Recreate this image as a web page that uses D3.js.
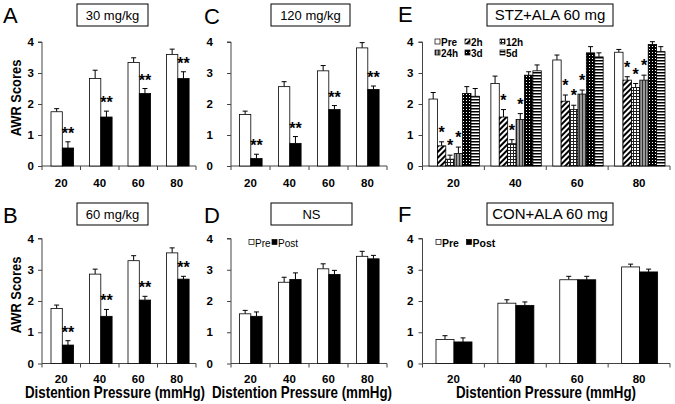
<!DOCTYPE html>
<html><head><meta charset="utf-8">
<script src="https://cdn.jsdelivr.net/npm/d3@7"></script>
<style>body{margin:0;background:#fff}svg{display:block}text{font-family:"Liberation Sans",Arial,Helvetica,sans-serif}</style>
</head><body><svg id="c" width="675" height="404"></svg>
<script>
// ---------- data ----------
const categories = ["20","40","60","80"];
const yTicks = [0,1,2,3,4];

// Panel A: 30 mg/kg
const aPre = [1.75,2.82,3.34,3.60];
const aPreErr = [0.10,0.27,0.15,0.17];
const aPost = [0.58,1.58,2.34,2.82];
const aPostErr = [0.20,0.19,0.16,0.22];
// Panel B: 60 mg/kg
const bPre = [1.76,2.86,3.29,3.54];
const bPreErr = [0.11,0.16,0.16,0.16];
const bPost = [0.59,1.51,2.03,2.70];
const bPostErr = [0.14,0.22,0.12,0.09];
// Panel C: 120 mg/kg
const cPre = [1.66,2.56,3.07,3.81];
const cPreErr = [0.11,0.16,0.17,0.17];
const cPost = [0.24,0.73,1.82,2.47];
const cPostErr = [0.14,0.22,0.13,0.11];
// Panel D: NS
const dPre = [1.59,2.60,3.03,3.43];
const dPreErr = [0.11,0.16,0.16,0.16];
const dPost = [1.51,2.69,2.85,3.35];
const dPostErr = [0.14,0.21,0.13,0.11];
// Panel F: CON+ALA 60 mg
const fPre = [0.77,1.93,2.68,3.09];
const fPreErr = [0.12,0.11,0.11,0.09];
const fPost = [0.69,1.86,2.68,2.93];
const fPostErr = [0.13,0.11,0.11,0.09];
// Panel E: STZ+ALA 60 mg
const eNames = ["Pre","2h","12h","24h","3d","5d"];
const ePre = [2.16,2.66,3.42,3.67];
const ePreErr = [0.21,0.24,0.16,0.09];
const e2h = [0.65,1.58,2.09,2.77];
const e2hErr = [0.13,0.24,0.20,0.11];
const e12h = [0.22,0.72,1.82,2.53];
const e12hErr = [0.13,0.13,0.14,0.13];
const e24h = [0.40,1.50,2.32,2.77];
const e24hErr = [0.21,0.19,0.13,0.16];
const e3d = [2.34,2.93,3.65,3.92];
const e3dErr = [0.22,0.11,0.20,0.09];
const e5d = [2.25,3.07,3.52,3.69];
const e5dErr = [0.25,0.19,0.13,0.16];
const eStarred = ["2h","12h","24h"];

// ---------- drawing ----------
const svg = d3.select("#c");
const defs = svg.append("defs");
function pat(id, w, h, build, transform){
  const p = defs.append("pattern").attr("id",id).attr("patternUnits","userSpaceOnUse")
    .attr("width",w).attr("height",h);
  if (transform) p.attr("patternTransform",transform);
  build(p);
}
pat("p2h",4,4,p=>{p.append("rect").attr("width",4).attr("height",4).attr("fill","#fff");
  p.append("rect").attr("width",2).attr("height",4).attr("fill","#000");},"rotate(45)");
pat("p12h",3,3,p=>{p.append("rect").attr("width",3).attr("height",3).attr("fill","#fff");
  p.append("rect").attr("width",3).attr("height",1).attr("fill","#222");
  p.append("rect").attr("width",1).attr("height",3).attr("fill","#222");});
pat("p24h",3,3,p=>{p.append("rect").attr("width",3).attr("height",3).attr("fill","#9a9a9a");
  p.append("rect").attr("width",1).attr("height",3).attr("fill","#333");});
pat("p3d",3,3,p=>{p.append("rect").attr("width",3).attr("height",3).attr("fill","#000");
  p.append("rect").attr("x",1).attr("y",1).attr("width",1).attr("height",1).attr("fill","#fff");});
pat("p5d",3,3,p=>{p.append("rect").attr("width",3).attr("height",3).attr("fill","#fff");
  p.append("rect").attr("width",3).attr("height",1.5).attr("fill","#000");});

const eFills = {"Pre":"#fff","2h":"url(#p2h)","12h":"url(#p12h)","24h":"url(#p24h)","3d":"url(#p3d)","5d":"url(#p5d)"};
const axisColor = "#444";

function drawPanel(o){
  const g = svg.append("g");
  const x = d3.scaleBand().domain(categories).range([o.x0,o.x1]).paddingInner(0).paddingOuter(0);
  const names = o.series.map(s=>s.name);
  const inner = d3.scaleBand().domain(names)
    .range([o.padL, o.padL + o.barW*names.length]);
  const y = d3.scaleLinear().domain([0,4]).range([o.yb,o.yt]);

  // axes
  const ya = d3.axisLeft(y).tickValues(yTicks).tickSize(4).tickPadding(o.tickGap).tickFormat(d3.format("d"));
  const yg = g.append("g").attr("transform",`translate(${o.x0},0)`).call(ya);
  yg.select(".domain").attr("stroke",axisColor).attr("d",`M-4,${o.yt}H0V${o.yb}`);
  yg.selectAll(".tick line").attr("stroke",axisColor);
  yg.selectAll(".tick text").attr("font-size",11.5).attr("font-weight","bold").attr("fill","#000")
    .style("font-family",'"Liberation Sans",Arial,sans-serif');

  const bounds = categories.map(c=>x(c)).concat([o.x1]);
  g.append("line").attr("x1",o.x0).attr("x2",o.x1).attr("y1",o.yb).attr("y2",o.yb).attr("stroke",axisColor);
  g.selectAll(".xt").data(bounds).join("line").attr("x1",d=>d).attr("x2",d=>d)
    .attr("y1",o.yb).attr("y2",o.yb+4).attr("stroke",axisColor);
  g.selectAll(".xl").data(categories).join("text")
    .attr("x",d=>x(d)+x.bandwidth()/2).attr("y",o.yb+o.xlOff).attr("text-anchor","middle")
    .attr("font-size",11.5).attr("font-weight","bold").text(d=>d);

  // bars
  o.series.forEach(s=>{
    const sg = g.append("g");
    categories.forEach((c,i)=>{
      const bx = x(c)+inner(s.name);
      const top = y(s.values[i]);
      const et = y(s.values[i]+s.errs[i]);
      const cx = bx + o.barW/2;
      sg.append("line").attr("x1",cx).attr("x2",cx).attr("y1",top).attr("y2",et).attr("stroke","#000").attr("stroke-width",1);
      sg.append("line").attr("x1",cx-2.5).attr("x2",cx+2.5).attr("y1",et).attr("y2",et).attr("stroke","#000").attr("stroke-width",1);
      sg.append("rect").attr("x",bx).attr("y",top).attr("width",o.barW).attr("height",o.yb-top)
        .attr("fill",s.fill).attr("stroke","#000").attr("stroke-width",0.8);
      if (s.star){
        sg.append("text").attr("x",cx).attr("y",et-o.starLift).attr("text-anchor","middle")
          .attr("font-size",16).attr("font-weight","bold").text(s.star);
      }
    });
  });

  // title box
  g.append("rect").attr("x",o.box[0]).attr("y",o.box[1]).attr("width",o.box[2]).attr("height",o.box[3])
    .attr("fill","#fff").attr("stroke","#000").attr("stroke-width",1);
  g.append("text").attr("x",o.box[0]+o.box[2]/2).attr("y",o.box[1]+o.box[3]/2+o.titleSize*0.36)
    .attr("text-anchor","middle").attr("font-size",o.titleSize).text(o.title);
  // panel letter
  g.append("text").attr("x",o.letter[1]).attr("y",o.letter[2]).attr("font-size",22).text(o.letter[0]);
  if (o.yTitle){
    const cy = (o.yt+o.yb)/2 - 6;
    g.append("text").attr("transform",`translate(20.5,${cy}) rotate(-90) scale(0.86,1)`).attr("text-anchor","middle")
      .attr("font-size",15).attr("font-weight","bold")
      .text("AWR Scores");
  }
  if (o.xTitle){
    g.append("text").attr("transform",`translate(${o.xTitle},398) scale(0.835,1)`).attr("text-anchor","middle")
      .attr("font-size",16).attr("font-weight","bold")
      .text("Distention Pressure (mmHg)");
  }
  if (o.legend){
    o.legend.items.forEach(it=>{
      g.append("rect").attr("x",it.x).attr("y",it.y-3.5).attr("width",5).attr("height",5)
        .attr("fill",it.fill).attr("stroke","#000").attr("stroke-width",0.7);
      g.append("text").attr("x",it.x+6).attr("y",it.y+3.5).attr("font-size",o.legend.size)
        .attr("font-weight",o.legend.weight).text(it.name);
    });
  }
}

const TOP = {yb:166, yt:42, xlOff:21};
const BOT = {yb:363.5, yt:238.5, xlOff:19};

drawPanel({...TOP, x0:42, x1:196, barW:11.3, padL:9, tickGap:4,
  series:[{name:"Pre",values:aPre,errs:aPreErr,fill:"#fff"},{name:"Post",values:aPost,errs:aPostErr,fill:"#000",star:"**"}],
  starLift:3, title:"30 mg/kg", titleSize:13, box:[77,4,71,22], letter:["A",3,23], yTitle:true});
drawPanel({...BOT, x0:42, x1:196, barW:11.3, padL:9, tickGap:4,
  series:[{name:"Pre",values:bPre,errs:bPreErr,fill:"#fff"},{name:"Post",values:bPost,errs:bPostErr,fill:"#000",star:"**"}],
  starLift:3, title:"60 mg/kg", titleSize:13, box:[77,203,71,22], letter:["B",3,222.5], yTitle:true, xTitle:115});
drawPanel({...TOP, x0:231, x1:387, barW:11.3, padL:8.5, tickGap:14,
  series:[{name:"Pre",values:cPre,errs:cPreErr,fill:"#fff"},{name:"Post",values:cPost,errs:cPostErr,fill:"#000",star:"**"}],
  starLift:3, title:"120 mg/kg", titleSize:13, box:[271,4,79,22], letter:["C",204,24]});
drawPanel({...BOT, x0:231, x1:387, barW:11.3, padL:8.5, tickGap:14,
  series:[{name:"Pre",values:dPre,errs:dPreErr,fill:"#fff"},{name:"Post",values:dPost,errs:dPostErr,fill:"#000"}],
  starLift:0, title:"NS", titleSize:13, box:[271,203,81,22], letter:["D",204,223], xTitle:302,
  legend:{size:10, weight:"normal", items:[{name:"Pre",fill:"#fff",x:249,y:243},{name:"Post",fill:"#000",x:272,y:243}]}});
drawPanel({...TOP, x0:422.5, x1:670, barW:8.4, padL:6.5, tickGap:5,
  series:eNames.map((n,k)=>({name:n,values:[ePre,e2h,e12h,e24h,e3d,e5d][k],errs:[ePreErr,e2hErr,e12hErr,e24hErr,e3dErr,e5dErr][k],
    fill:eFills[n],star:eStarred.includes(n)?"*":null})),
  starLift:4, title:"STZ+ALA 60 mg", titleSize:15, box:[487,4,126,22], letter:["E",398,22],
  legend:{size:10, weight:"bold", items:[
    {name:"Pre",fill:eFills["Pre"],x:435,y:42.5},{name:"2h",fill:eFills["2h"],x:465,y:42.5},{name:"12h",fill:eFills["12h"],x:500,y:42.5},
    {name:"24h",fill:eFills["24h"],x:435,y:53.5},{name:"3d",fill:eFills["3d"],x:465,y:53.5},{name:"5d",fill:eFills["5d"],x:500,y:53.5}]}});
drawPanel({...BOT, x0:422.5, x1:670, barW:18, padL:13.5, tickGap:5,
  series:[{name:"Pre",values:fPre,errs:fPreErr,fill:"#fff"},{name:"Post",values:fPost,errs:fPostErr,fill:"#000"}],
  starLift:0, title:"CON+ALA 60 mg", titleSize:15, box:[487,203,126,22], letter:["F",398,222], xTitle:546,
  legend:{size:10.5, weight:"bold", items:[{name:"Pre",fill:"#fff",x:436,y:243},{name:"Post",fill:"#000",x:466.5,y:243}]}});
</script></body></html>
